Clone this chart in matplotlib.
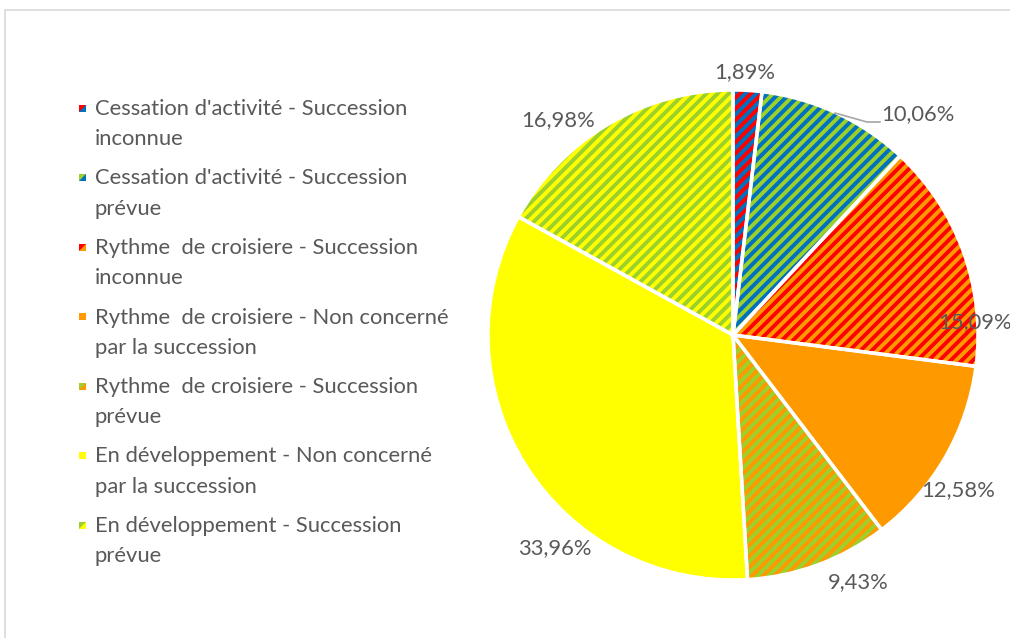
import matplotlib.pyplot as plt
from matplotlib.patches import Rectangle, Polygon

# share of each business situation (%)
labels = ["Cessation d'activité - Succession\ninconnue",
          "Cessation d'activité - Succession\nprévue",
          "Rythme  de croisiere - Succession\ninconnue",
          "Rythme  de croisiere - Non concerné\npar la succession",
          "Rythme  de croisiere - Succession\nprévue",
          "En développement - Non concerné\npar la succession",
          "En développement - Succession\nprévue"]
values = [1.89, 10.06, 15.09, 12.58, 9.43, 33.96, 16.98]
base_colors = ['#0070C0', '#0070C0', '#FF9900', '#FF9900', '#FF9900', '#FFFF00', '#FFFF00']
stripe_colors = ['#FF0000', '#9CD02A', '#FF0000', None, '#9CD02A', None, '#9CD02A']

# where each percentage sits (pixels from the pie centre)
label_offsets = [(12, 263), (185, 221), (242, 13), (225, -155),
                 (125, -247), (-178, -213), (-175, 215)]

plt.rcParams['font.family'] = ['Lato', 'DejaVu Sans']
plt.rcParams['hatch.linewidth'] = 2.8
text_grey = '#595959'
fs = 15.8

W, H = 1010, 638
fig = plt.figure(figsize=(W / 100, H / 100), dpi=100)
ax = fig.add_axes([0, 0, 1, 1])
cx, cy, R = 733, H - 335, 245

wedges, _ = ax.pie(values, startangle=90, counterclock=False, center=(cx, cy),
                   radius=R, colors=base_colors, wedgeprops=dict(linewidth=0))
for w, sc, bc in zip(wedges, stripe_colors, base_colors):
    if sc:
        w.set_edgecolor(sc)
        w.set_hatch('///')
    else:
        w.set_edgecolor(bc)
    w.set_linewidth(0)

# white separators between slices
ax.pie(values, startangle=90, counterclock=False, center=(cx, cy), radius=R,
       colors=['none'] * len(values),
       wedgeprops=dict(edgecolor='white', linewidth=2.5, fill=False))

for v, (dx, dy) in zip(values, label_offsets):
    txt = f"{v:.2f}".replace('.', ',') + '%'
    ax.text(cx + dx, cy + dy, txt, ha='center', va='center',
            fontsize=fs, color=text_grey)

# leader line for the 10,06% label
ax.plot([835, 867, 880], [H - 113, H - 122, H - 122], color='#A6A6A6', lw=1.2)

# legend on the left
for i, (lab, bc, sc) in enumerate(zip(labels, base_colors, stripe_colors)):
    y = H - 108 - i * 69.5
    x0, s = 79, 7
    ax.add_patch(Rectangle((x0, y - s / 2), s, s, facecolor=bc, lw=0))
    if sc:
        ax.add_patch(Polygon([(x0, y - s / 2), (x0, y + s / 2), (x0 + s, y + s / 2)],
                             closed=True, facecolor=sc, lw=0))
    ax.text(95, y + 9, lab, ha='left', va='top', fontsize=fs,
            color=text_grey, linespacing=1.65)

# chart area border
ax.add_patch(Rectangle((5, -50), 1200, H - 10 + 50, fill=False,
                       edgecolor='#D9D9D9', lw=1.2))

ax.set_xlim(0, W)
ax.set_ylim(0, H)
ax.set_aspect('auto')
ax.axis('off')

fig.savefig('out.png', dpi=100)
